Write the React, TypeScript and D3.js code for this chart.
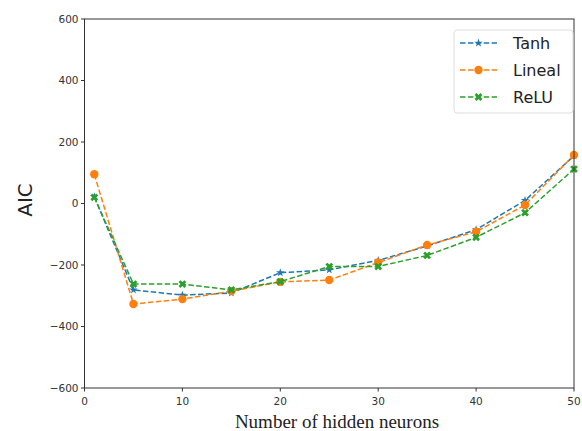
import React from "react";
import * as d3 from "d3";

const neurons = [1, 5, 10, 15, 20, 25, 30, 35, 40, 45, 50];
const tanh = [22, -281, -298, -291, -225, -216, -185, -138, -85, 10, 155];
const lineal = [95, -327, -311, -285, -255, -249, -192, -135, -92, -5, 158];
const relu = [20, -262, -262, -281, -254, -205, -205, -169, -110, -30, 112];
const xTicks = [0, 10, 20, 30, 40, 50];
const yTicks = [-600, -400, -200, 0, 200, 400, 600];

const seriesList = [
  { name: "Tanh", values: tanh, color: "#1f77b4", marker: "star" },
  { name: "Lineal", values: lineal, color: "#ff7f0e", marker: "circle" },
  { name: "ReLU", values: relu, color: "#2ca02c", marker: "x" },
];

const W = 582, H = 431;
const L = 84.5, R = 574, T = 19, B = 388;

function Marker({ type, x, y, color }: { type: string; x: number; y: number; color: string }) {
  if (type === "circle") return <circle cx={x} cy={y} r={4.2} fill={color} />;
  if (type === "star") {
    const p = d3.symbol().type(d3.symbolStar).size(22)();
    return <path d={p || ""} transform={`translate(${x},${y})`} fill={color} />;
  }
  const p = d3.symbol().type(d3.symbolCross).size(38)();
  return <path d={p || ""} transform={`translate(${x},${y}) rotate(45)`} fill={color} />;
}

export default function App() {
  const x = d3.scaleLinear().domain([0, 50]).range([L, R]);
  const y = d3.scaleLinear().domain([-600, 600]).range([B, T]);
  const line = d3.line<number>().x((_, i) => x(neurons[i])).y((v) => y(v));
  const font = "DejaVu Sans, sans-serif";
  return (
    <svg width={W} height={H} style={{ position: "absolute", left: 0, top: 0, background: "#fff" }}>
      <rect x={0} y={0} width={W} height={H} fill="#fff" />
      {seriesList.map((s) => (
        <g key={s.name}>
          <path d={line(s.values) || ""} fill="none" stroke={s.color} strokeWidth={1.5} strokeDasharray="5.5,2.4" />
          {s.values.map((v, i) => (
            <Marker key={i} type={s.marker} x={x(neurons[i])} y={y(v)} color={s.color} />
          ))}
        </g>
      ))}
      <rect x={L} y={T} width={R - L} height={B - T} fill="none" stroke="#333" strokeWidth={1} />
      {yTicks.map((t) => (
        <g key={t}>
          <line x1={L - 3.5} x2={L} y1={y(t)} y2={y(t)} stroke="#333" />
          <text x={L - 6} y={y(t)} dy="0.35em" textAnchor="end" fontFamily={font} fontSize={10.5} fill="#333">
            {t < 0 ? `\u2212${-t}` : t}
          </text>
        </g>
      ))}
      {xTicks.map((t) => (
        <g key={t}>
          <line x1={x(t)} x2={x(t)} y1={B} y2={B + 3.5} stroke="#333" />
          <text x={x(t)} y={B + 17} textAnchor="middle" fontFamily={font} fontSize={10.5} fill="#333">
            {t}
          </text>
        </g>
      ))}
      <text transform={`translate(32,200) rotate(-90)`} textAnchor="middle" fontFamily={font} fontSize={20} fill="#222">
        AIC
      </text>
      <text x={337} y={428} textAnchor="middle" fontFamily="Liberation Serif, serif" fontSize={19} fill="#222">
        Number of hidden neurons
      </text>
      <g>
        <rect x={454} y={30} width={119} height={83} rx={3} fill="#fff" stroke="#ddd" />
        {seriesList.map((s, i) => {
          const cy = 43 + i * 27;
          return (
            <g key={s.name}>
              <line x1={460} x2={497} y1={cy} y2={cy} stroke={s.color} strokeWidth={1.5} strokeDasharray="5.5,2.4" />
              <Marker type={s.marker} x={478.5} y={cy} color={s.color} />
              <text x={513} y={cy} dy="0.36em" fontFamily={font} fontSize={16} fill="#222">
                {s.name}
              </text>
            </g>
          );
        })}
      </g>
    </svg>
  );
}
